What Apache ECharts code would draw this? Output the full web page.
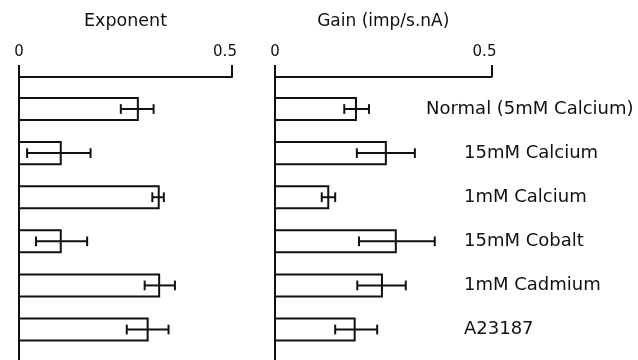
<!DOCTYPE html>
<html>
<head>
<meta charset="utf-8">
<script src="https://cdn.jsdelivr.net/npm/echarts@6/dist/echarts.min.js"></script>
<style>html,body{margin:0;padding:0;background:#fff;}#c{width:638px;height:360px;}</style>
</head>
<body>
<div id="c"></div>
<script>
// ---- data ----
var categories = ['Normal (5mM Calcium)', '15mM Calcium', '1mM Calcium', '15mM Cobalt', '1mM Cadmium', 'A23187'];
var exponentMean = [0.279, 0.098, 0.328, 0.098, 0.329, 0.302];
var exponentLow  = [0.239, 0.019, 0.313, 0.040, 0.295, 0.253];
var exponentHigh = [0.316, 0.168, 0.340, 0.160, 0.366, 0.351];
var gainMean = [0.187, 0.256, 0.123, 0.279, 0.247, 0.184];
var gainLow  = [0.160, 0.189, 0.108, 0.194, 0.190, 0.139];
var gainHigh = [0.217, 0.323, 0.139, 0.369, 0.302, 0.236];
var tickLabels = ['0', '0.5'];
var panelTitles = ['Exponent', 'Gain (imp/s.nA)'];

var FONT = 'DejaVu Sans';
var INK = '#111';

function rows(mean, low, high) {
  return categories.map(function (c, i) { return [mean[i], i, low[i], high[i]]; });
}

function renderBar(params, api) {
  var idx = api.value(1), v = api.value(0), lo = api.value(2), hi = api.value(3);
  var p0 = api.coord([0, idx]);
  var p1 = api.coord([v, idx]);
  var h = api.size([0, 0.5])[1];
  var cap = api.size([0, 0.22])[1];
  var pl = api.coord([lo, idx]);
  var ph = api.coord([hi, idx]);
  var y = p0[1];
  var ls = { stroke: INK, lineWidth: 2 };
  return {
    type: 'group',
    children: [
      { type: 'rect', shape: { x: p0[0], y: y - h / 2, width: p1[0] - p0[0], height: h },
        style: { fill: '#fff', stroke: INK, lineWidth: 2 } },
      { type: 'line', shape: { x1: pl[0], y1: y, x2: ph[0], y2: y }, style: ls },
      { type: 'line', shape: { x1: pl[0], y1: y - cap / 2, x2: pl[0], y2: y + cap / 2 }, style: ls },
      { type: 'line', shape: { x1: ph[0], y1: y - cap / 2, x2: ph[0], y2: y + cap / 2 }, style: ls }
    ]
  };
}

function xAxisFor(gridIndex, name, nameSize) {
  return {
    gridIndex: gridIndex, type: 'value', position: 'top', min: 0, max: 0.5, interval: 0.5,
    name: name, nameLocation: 'middle', nameGap: 47,
    nameTextStyle: { fontFamily: FONT, fontSize: nameSize, color: INK },
    axisLine: { show: true, onZero: false, lineStyle: { color: INK, width: 2 } },
    axisTick: { show: true, length: 12, inside: false, lineStyle: { color: INK, width: 2 } },
    splitLine: { show: false },
    axisLabel: {
      margin: 17, fontFamily: FONT, fontSize: 15, color: INK,
      formatter: function (v) { return v === 0 ? '{a|' + tickLabels[0] + '}' : '{b|' + tickLabels[1] + '}'; },
      rich: {
        a: { fontFamily: FONT, fontSize: 15, color: INK },
        b: { fontFamily: FONT, fontSize: 15, color: INK, padding: [0, 14, 0, 0] }
      }
    }
  };
}

function yAxisFor(gridIndex) {
  return {
    gridIndex: gridIndex, type: 'value', inverse: true, min: -0.726, max: 5.691,
    axisLine: { show: true, onZero: false, lineStyle: { color: INK, width: 2 } },
    axisTick: { show: false }, axisLabel: { show: false }, splitLine: { show: false }
  };
}

var chart = echarts.init(document.getElementById('c'), null, { renderer: 'canvas' });
chart.setOption({
  backgroundColor: '#fff',
  animation: false,
  grid: [
    { left: 19, top: 77, width: 213, bottom: 0 },
    { left: 275, top: 77, width: 216.5, bottom: 0 },
    { left: 400, top: 87, width: 20, height: 264 }
  ],
  xAxis: [
    xAxisFor(0, panelTitles[0], 17.5),
    xAxisFor(1, panelTitles[1], 17),
    { gridIndex: 2, type: 'value', show: false }
  ],
  yAxis: [
    yAxisFor(0),
    yAxisFor(1),
    {
      gridIndex: 2, type: 'category', data: categories, inverse: true, position: 'right',
      axisLine: { show: false }, axisTick: { show: false }, splitLine: { show: false },
      axisLabel: {
        margin: 6, align: 'left', interval: 0,
        formatter: function (v, i) { return (i === 0 ? '{n|' : '{o|') + v + '}'; },
        rich: {
          n: { fontFamily: FONT, fontSize: 18, color: INK },
          o: { fontFamily: FONT, fontSize: 18, color: INK, padding: [0, 0, 0, 38] }
        }
      }
    }
  ],
  series: [
    { type: 'custom', xAxisIndex: 0, yAxisIndex: 0, renderItem: renderBar,
      encode: { x: 0, y: 1 }, data: rows(exponentMean, exponentLow, exponentHigh) },
    { type: 'custom', xAxisIndex: 1, yAxisIndex: 1, renderItem: renderBar,
      encode: { x: 0, y: 1 }, data: rows(gainMean, gainLow, gainHigh) }
  ]
});
</script>
</body>
</html>
